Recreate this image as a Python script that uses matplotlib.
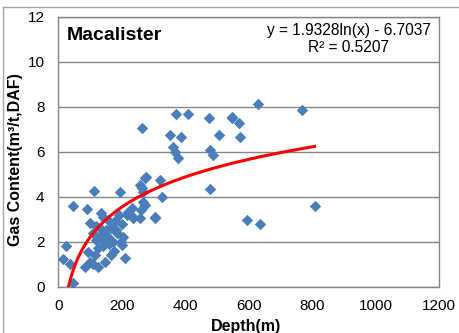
import numpy as np
import matplotlib
matplotlib.use("Agg")
import matplotlib.pyplot as plt
from matplotlib.lines import Line2D

plt.rcParams['font.family'] = ['Liberation Sans', 'DejaVu Sans']

# Datos (profundidad m, contenido de gas m3/t)
depth = [808, 595, 635, 629, 767, 574, 548, 569, 371, 409, 476, 546, 263, 352,
         386, 506, 362, 378, 367, 478, 488, 478, 320, 326, 305, 273,
         256, 263, 268, 278, 112, 196, 46, 91, 135, 157, 99, 220, 235, 261,
         267, 273, 304, 236, 257, 231, 183, 204, 199, 120, 135, 157, 172, 25,
         15, 38, 46, 83, 99, 125, 167, 209, 146, 115, 94, 142, 140, 150, 165,
         180, 190, 110, 125, 175, 130, 145, 160, 185, 200, 215, 108, 118, 200]
gas = [3.6, 2.96, 2.79, 8.1, 7.85, 6.67, 7.48, 7.29, 7.67, 7.67, 7.48, 7.55, 7.04, 6.74,
       6.67, 6.74, 6.22, 5.7, 6.0, 6.07, 5.85, 4.33, 4.74, 4.0, 3.1, 4.82,
       4.52, 4.37, 4.22, 4.89, 4.27, 4.22, 3.59, 3.44, 3.29, 2.96, 2.82, 3.33, 3.04, 3.41,
       3.78, 3.63, 3.04, 3.11, 3.04, 3.48, 2.52, 2.22, 2.0, 2.07, 2.3, 2.22, 2.0, 1.81,
       1.22, 1.01, 0.18, 0.89, 1.11, 0.89, 1.41, 1.26, 1.11, 1.41, 1.56, 3.11, 1.8, 2.5, 2.6,
       2.9, 3.2, 2.4, 1.7, 1.6, 2.6, 2.0, 1.9, 2.4, 2.8, 3.2, 1.0, 2.7, 1.85]

# Linea de tendencia logaritmica
coef_a = 1.9328
coef_b = -6.7037
r2 = 0.5207

x_ticks = [0, 200, 400, 600, 800, 1000, 1200]
y_ticks = [0, 2, 4, 6, 8, 10, 12]

W, H = 459, 333
fig = plt.figure(figsize=(W / 100, H / 100), dpi=100)
ax = fig.add_axes([58.3 / W, 1 - 286.7 / H, (439 - 58.3) / W, (286.7 - 16.7) / H])

gris = '#868686'
ax.set_xlim(0, 1200)
ax.set_ylim(0, 12)
ax.set_xticks(x_ticks)
ax.set_yticks(y_ticks)
ax.grid(axis='y', color=gris, lw=1)
ax.set_axisbelow(True)
for s in ax.spines.values():
    s.set_color(gris)
    s.set_linewidth(1)
ax.tick_params(length=0, labelsize=11)
ax.tick_params(axis='y', pad=10)
ax.tick_params(axis='x', pad=9)

ax.scatter(depth, gas, marker='D', s=34, color='#4A7EBB', linewidths=0, zorder=3)

xs = np.linspace(min(depth), max(depth), 400)
ax.plot(xs, coef_a * np.log(xs) + coef_b, color='#FF0000', lw=2.2, zorder=4)

ax.set_xlabel('Depth(m)', fontsize=11.5, fontweight='bold', labelpad=0)
ax.xaxis.set_label_coords((246 - 58.3) / 381, -0.12)
ax.set_ylabel('Gas Content(m³/t,DAF)', fontsize=11.5, fontweight='bold')
ax.yaxis.set_label_coords(-0.093, 0.47)

fig.text(67 / W, 1 - 35 / H, 'Macalister', fontsize=14, fontweight='bold',
         ha='left', va='center')
fig.text(348.7 / W, 1 - 39 / H, f'y = {coef_a}ln(x) - {-coef_b:.4f}\nR² = {r2}',
         fontsize=11.2, ha='center', va='center',
         multialignment='center', linespacing=1.2)

# marco exterior (solo borde superior e izquierdo visibles)
fig.add_artist(Line2D([2.5 / W, 1], [1 - 7 / H, 1 - 7 / H], transform=fig.transFigure,
                      color='#a6a6a6', lw=1))
fig.add_artist(Line2D([2.5 / W, 2.5 / W], [0, 1 - 7 / H], transform=fig.transFigure,
                      color='#a6a6a6', lw=1))

fig.savefig('out.png', dpi=100)
